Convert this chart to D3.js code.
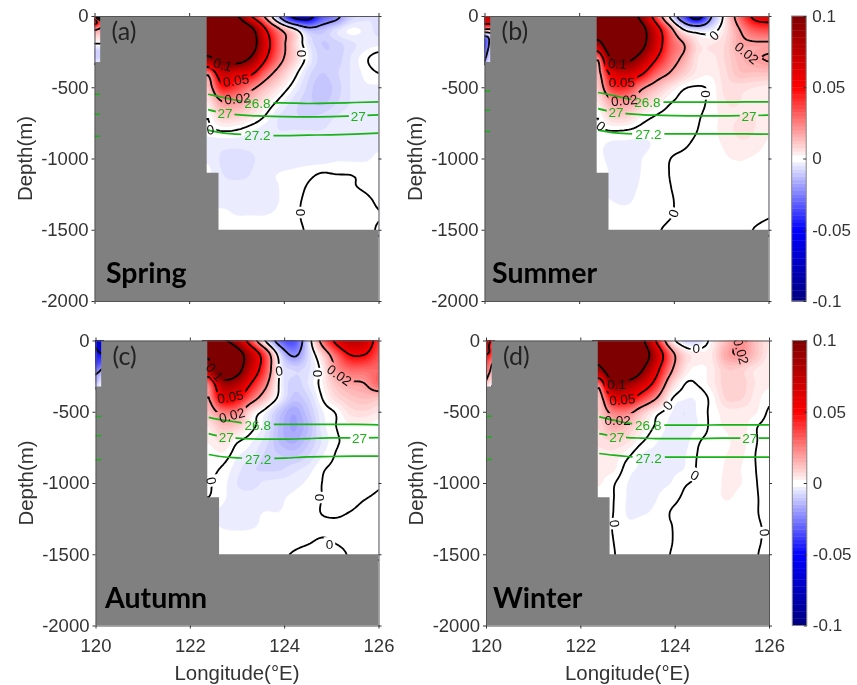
<!DOCTYPE html>
<html>
<head>
<meta charset="utf-8">
<script src="https://cdn.jsdelivr.net/npm/d3@7"></script>
<style>
  html, body { margin: 0; background: #fff; }
  svg { display: block; filter: blur(0.45px); }
  text { font-family: "Liberation Sans", Arial, sans-serif; }
</style>
</head>
<body>
<div id="chart"></div>
<script>
// field values, in units of 0.001
// rows: depth 0..1500 every 100 m, columns: 122.4..126 every 0.3 deg
const lons = d3.range(13).map(i => 122.4 + i * 0.3);
const depths = d3.range(16).map(i => i * 100);

const springValues = [
  [140, 140, 105, 52, 18, -20, -55, -60, -35, -25, -10, -6, -5],
  [140, 170, 160, 115, 55, 24, 6, -12, -12, -6, -2, -3, -6],
  [130, 170, 170, 125, 65, 30, 10, -4, -10, -9, -6, -4, -3],
  [90, 115, 120, 95, 53, 26, 10, -2, -9, -9, -5, -1, 2],
  [25, 70, 62, 55, 30, 14, 3, -6, -10, -8, -5, -2, 0],
  [12, 45, 38, 25, 13, 5, -2, -8, -12, -9, -5, -3, -3],
  [5, 20, 20, 12, 5, -1, -6, -9, -11, -8, -5, -4, -4],
  [0.5, 10, 9, 5, 0, -5, -7, -8, -7, -5, -4, -4, -4],
  [-1, 0.5, 0, -2, -4, -5, -5, -5, -5, -4, -3, -3, -3],
  [-4, -4, -4, -4, -4, -4, -4, -4, -4, -3, -3, -3, -3],
  [-3, -5.5, -6.5, -5.5, -4, -4, -4, -4, -4, -3, -3, -3, -2],
  [-2, -5, -6, -5, -3, -2.5, -2, -1, 0, -0.2, -0.2, -0.5, -1],
  [-3, -4, -4, -4, -3, -2.5, -1.5, 0.2, 1, 1, 0.3, -0.3, -1],
  [-3, -3, -3, -3, -3, -2.5, -0.8, 0.5, 1, 1, 1, 0.6, -0.3],
  [-2, -2, -2.5, -2.5, -2.5, -2, -0.6, 0.5, 1, 1, 1, 0.8, 0.1],
  [-1, -1, -1, -1, -1, -1, -0.5, 0.2, 1, 1, 1, 0.8, -0.2]
];
const summerValues = [
  [140, 140, 130, 90, 40, 0, -35, -60, -20, 5, 30, 55, 60],
  [135, 170, 170, 120, 68, 30, 2, -5, -3, 6, 20, 32, 35],
  [80, 150, 160, 115, 70, 35, 21, 6, 5, 8, 17, 18, 18],
  [23, 105, 110, 85, 53, 30, 17, 5, 4, 8, 14, 18, 21],
  [15, 60, 70, 55, 32, 20, 10, 4, 3, 7, 12, 12, 12],
  [10, 40, 42, 24, 14, 6, 0.8, -0.3, 1, 6, 6, 5, 4],
  [5, 18, 20, 12, 5, 0.7, -1, -0.8, 1, 5, 5, 4, 3],
  [0.4, 9, 9, 3, 0, -1, -1, -0.3, 1.2, 4, 5, 5, 3],
  [-0.5, 0.3, 0, -1.2, -1.8, -1.8, -1.2, 0, 1.5, 4, 5.5, 5, 3],
  [-2, -3, -3, -3, -2.2, -1, -0.4, 0.6, 1.5, 3, 4.5, 4, 2],
  [-2, -3.2, -3.2, -2.6, -1.5, -0.1, 0.5, 1, 1.2, 2.2, 2.8, 2, 1],
  [-1, -3, -3, -2.5, -1.2, 0, 0.6, 1, 1, 1, 1, 0.8, 0.6],
  [-2, -3, -3, -2.3, -1, -0.1, 0.5, 0.8, 0.8, 0.8, 0.8, 0.8, 0.6],
  [-2, -2.5, -2.8, -1.8, -0.7, -0.2, 0.4, 0.8, 0.8, 0.8, 0.8, 0.8, 0.5],
  [-1, -1.5, -1.5, -1, -0.5, -0.1, 0.3, 0.5, 0.6, 0.6, 0.6, 0.4, 0.1],
  [-1, -1, -1, -0.8, -0.2, 0.2, 0.5, 0.5, 0.5, 0.5, 0.5, -0.05, -0.3]
];
const autumnValues = [
  [110, 105, 80, 35, -0.5, -27, -35, -8, 25, 55, 75, 70, 40],
  [105, 150, 120, 75, 35, -5, -22, -8, 8, 30, 50, 50, 35],
  [80, 140, 115, 70, 36, -1, -8, -6, 2, 21, 30, 30, 30],
  [28, 85, 80, 50, 25, -1, -9, -5, 2, 12, 18, 20, 30],
  [20, 58, 52, 30, 12, -2, -11, -8, 0, 7, 11, 13, 12],
  [12, 26, 25, 6, -2, -11, -17, -11, -3, 0.5, 6, 7, 5],
  [5, 12, 10, 2, -4, -13, -18, -13, -4, 0, 2, 2, 1],
  [3, 6, 1, -2, -6, -13, -16, -11, -5, -0.5, 0.5, 0.8, 0.6],
  [1, 2, -2, -4, -8, -10, -11, -8, -3, 0.2, 0.8, 0.8, 0.6],
  [0.8, -0.5, -4, -7, -8, -8, -6, -4, -0.5, 0.6, 0.8, 0.8, 0.6],
  [0.3, -1.5, -5, -6, -4.5, -4, -3.5, -2, 0, 0.6, 0.8, 0.8, 0.2],
  [0, -2, -4, -4, -3.5, -3, -2, -1.2, 0, 0.5, 0.4, 0.1, -0.2],
  [-2, -3, -3.5, -3, -2.5, -2.5, -1.5, -1, 0.1, 0.2, 0, -0.3, -0.6],
  [-2, -2.7, -3, -2.8, -2, -1.2, -1, -0.6, -0.4, -0.2, -0.4, -0.6, -0.8],
  [-1, -1.5, -1.5, -1.4, -1.2, -0.8, -0.5, -0.2, 0.1, -0.1, -0.3, -0.5, -0.7],
  [-1, -1, -1, -1, -0.8, -0.3, 0.1, 0.4, 0.6, 0.3, -0.1, -0.4, -0.6]
];
const winterValues = [
  [150, 160, 140, 110, 50, 8, -6, -6, 3, 13, 22, 12, 5],
  [120, 170, 170, 130, 75, 30, 8, 4, 5, 17, 20, 12, 4],
  [90, 140, 150, 105, 60, 25, 6, 1.5, 4, 10, 9, 5, 3],
  [30, 100, 90, 70, 43, 12, 0.5, 0.4, 4, 9, 9, 5, 3],
  [12, 55, 57, 40, 22, 2, -2, -2, 1.5, 8, 8, 4, 1],
  [10, 25, 25, 12, 2.5, -2, -5, -2, 1, 4, 4, 3, -0.4],
  [8, 16, 12, 5, -0.5, -3, -4, -2.4, 1, 3, 4, 0.5, -1],
  [6, 8, 6, 0.8, -2.2, -3, -3.6, -0.4, 1, 2, 3.5, 0.5, -2],
  [4, 4, 1, -2.6, -3, -3, -2.8, 0.2, 1, 2.5, 3, 0.1, -2],
  [3, 3, -1.5, -2.8, -3, -3, -2.5, 0.4, 1, 2.8, 2.5, 0.2, -2.5],
  [2.8, 0.4, -2.5, -3, -3, -2.6, -0.4, 0.4, 1.2, 3, 2.6, 0.4, -2],
  [1, 0.1, -2.7, -3.2, -2.7, -1, 0.3, 0.8, 1.2, 2.8, 1.5, 0.4, -1.2],
  [0.5, 0, -2.8, -2.9, -2, 0, 0.4, 0.8, 0.8, 1, 0.8, 0.2, -0.6],
  [0.5, -0.1, -2, -1.5, -1, -0.1, 0.4, 0.6, 0.6, 0.6, 0.5, 0.2, -0.2],
  [0.5, 0, -1, -1, -0.6, -0.1, 0.4, 0.5, 0.5, 0.5, 0.5, 0.2, -0.2],
  [0.5, 0.1, -0.8, -0.6, -0.4, 0, 0.3, 0.4, 0.4, 0.4, 0.4, 0.1, -0.3]
];

// the narrow strip west of the ridge, same units: depth 0..320 every 40 m
const stripLons = [120, 120.07, 120.14];
const stripDepths = d3.range(9).map(i => i * 40);
const springStrip = [
  [30, -10, -40], [60, 45, 25], [30, 25, 20], [12, 12, 12], [5, 5, 5],
  [-1, -1, -1], [-8, -8, -8], [-9, -9, -9], [-6, -6, -6]
];
const summerStrip = [
  [70, 70, 70], [60, 60, 60], [30, 30, 30], [-5, -3, 0], [-30, -25, -10],
  [-35, -25, -10], [-30, -20, -8], [-25, -15, -6], [-20, -10, -5]
];
const autumnStrip = [
  [-75, -70, -65], [-52, -60, -70], [-45, -50, -53], [-42, -42, -42], [-38, -35, -32],
  [-28, -25, -20], [-20, -16, -12], [-18, -10, -6], [-8, -5, -2]
];
const winterStrip = [
  [75, 55, 40], [65, 48, 35], [55, 50, 35], [45, 38, 30], [35, 28, 20],
  [30, 24, 14], [26, 18, 8], [20, 10, 4], [6, 3, -0.3]
];

// isopycnal depths (m)
const isoLons = [122.4, 122.7, 123, 123.3, 123.6, 124, 124.5, 125, 125.5, 126];
const springIso = [
  [549, 570, 591, 605, 610, 610, 614, 612, 607, 603],
  [657, 680, 692, 699, 703, 706, 708, 706, 701, 694],
  [801, 820, 829, 836, 839, 839, 836, 834, 829, 822]
];
const summerIso = [
  [537, 556, 579, 596, 603, 605, 605, 605, 603, 603],
  [650, 673, 685, 692, 696, 699, 701, 701, 699, 696],
  [801, 818, 825, 827, 827, 827, 827, 827, 827, 829]
];
const autumnIso = [
  [540, 559, 573, 587, 589, 589, 589, 589, 589, 592],
  [653, 676, 685, 690, 692, 692, 688, 683, 683, 681],
  [800, 816, 823, 828, 828, 826, 816, 814, 812, 812]
];
const winterIso = [
  [536, 559, 580, 589, 594, 594, 594, 592, 592, 592],
  [653, 671, 681, 685, 688, 688, 688, 685, 685, 685],
  [793, 805, 814, 819, 819, 819, 819, 819, 819, 819]
];
const springIsoStrip = [549, 689, 843];
const summerIsoStrip = [528, 661, 811];
const autumnIsoStrip = [533, 669, 837];
const winterIsoStrip = [531, 678, 835];

// contour labels: text, lon, depth, angle
const springLabels = [
  ['0.1', 122.71, 341, 15], ['0.05', 122.99, 451, -8], ['0.02', 123.02, 579, -5],
  ['0', 124.38, 264, 90], ['0', 122.45, 797, -10], ['0', 124.36, 1379, 90]
];
const summerLabels = [
  ['0.1', 122.81, 334, 5], ['0.05', 122.9, 463, 0], ['0.02', 122.95, 591, -5],
  ['0', 124.85, 136, -45], ['0.02', 125.54, 259, 40], ['0', 124.68, 547, 90],
  ['0', 122.46, 771, 40], ['0', 123.99, 1385, -70]
];
const autumnLabels = [
  ['0.1', 122.53, 220, 50], ['0.05', 122.86, 395, -10], ['0.02', 122.89, 524, -15],
  ['0', 123.89, 213, -10], ['0', 124.72, 232, 90], ['0.02', 125.17, 243, 35],
  ['0', 122.46, 985, 80], ['0', 124.75, 1102, 90], ['0', 124.96, 1429, 0]
];
const winterLabels = [
  ['0.1', 122.77, 306, 0], ['0.05', 122.89, 414, -5], ['0.02', 122.79, 559, 0],
  ['0', 123.85, 456, -50], ['0', 124.46, 51, 0], ['0.02', 125.41, 75, 75],
  ['0', 124.43, 945, 30], ['0', 122.73, 1284, 85], ['0', 125.91, 1347, 85]
];
const springIsoLabels = [['26.8', 123.44, 610], ['27', 122.76, 685], ['27', 125.57, 703], ['27.2', 123.44, 836]];
const summerIsoLabels = [['26.8', 123.44, 603], ['27', 122.78, 673], ['27', 125.59, 701], ['27.2', 123.46, 831]];
const autumnIsoLabels = [['26.8', 123.44, 592], ['27', 122.77, 676], ['27', 125.6, 683], ['27.2', 123.45, 830]];
const winterIsoLabels = [['26.8', 123.44, 596], ['27', 122.77, 676], ['27', 125.59, 688], ['27.2', 123.45, 823]];

const lonTicks = [120, 122, 124, 126];
const depthTicks = [0, 500, 1000, 1500, 2000];
const colorTicks = [-0.1, -0.05, 0, 0.05, 0.1];
const contourLevels = [-50, -20, 0, 20, 50, 100];

const ink = '#333';
const green = '#17b317';
const gray = '#808080';

const panels = [
  { id: 'a', left: 94.5, top: 16, width: 284, titleX: 32, tag: '(a)', name: 'Spring', nameDx: 11.5, values: springValues, strip: springStrip, iso: springIso, isoStrip: springIsoStrip, labels: springLabels, isoLabels: springIsoLabels },
  { id: 'b', left: 484.5, top: 16, width: 284, titleX: 422, tag: '(b)', name: 'Summer', nameDx: 7.5, values: summerValues, strip: summerStrip, iso: summerIso, isoStrip: summerIsoStrip, labels: summerLabels, isoLabels: summerIsoLabels },
  { id: 'c', left: 95.5, top: 340.5, width: 283, titleX: 33, tag: '(c)', name: 'Autumn', nameDx: 9.5, values: autumnValues, strip: autumnStrip, iso: autumnIso, isoStrip: autumnIsoStrip, labels: autumnLabels, isoLabels: autumnIsoLabels },
  { id: 'd', left: 486, top: 340.5, width: 283, titleX: 423, tag: '(d)', name: 'Winter', nameDx: 7, values: winterValues, strip: winterStrip, iso: winterIso, isoStrip: winterIsoStrip, labels: winterLabels, isoLabels: winterIsoLabels }
];
const panelHeight = 285;

const color = d3.scaleLinear()
  .domain([-100, -50, 0, 50, 100])
  .range(['#00007f', '#0000ff', '#ffffff', '#ff0000', '#7f0000'])
  .clamp(true);

// colour bands of 2.5, white between -2.5 and 2.5
const bandStep = 2.5;
const bands = d3.range(-41, 41).filter(k => k !== 0).map(k => ({
  from: k === -41 ? -1000 : k * bandStep,
  to: k === -1 ? bandStep : (k + 1) * bandStep,
  fill: k === -1 ? '#fff' : color((k + 0.5) * bandStep)
}));

const svg = d3.select('#chart').append('svg')
  .attr('width', 857)
  .attr('height', 685);
const defs = svg.append('defs');

// smooth the coarse table so the contours are not angular (Catmull-Rom)
const fine = 6;
const pad = 2;
const cubic = (a, b, c, d, t) =>
  b + 0.5 * t * (c - a + t * (2 * a - 5 * b + 4 * c - d + t * (3 * (b - c) + d - a)));

const refine = function(rows) {
  const nRows = rows.length;
  const nCols = rows[0].length;
  const w = (nCols - 1) * fine + 1 + pad * 2;
  const h = (nRows - 1) * fine + 1 + pad * 2;
  const out = new Array(w * h);
  const at = (r, c) => rows[Math.max(0, Math.min(nRows - 1, r))][Math.max(0, Math.min(nCols - 1, c))];
  for (let j = 0; j < h; j++) {
    const v = Math.max(0, Math.min(nRows - 1, (j - pad) / fine));
    const r = Math.min(nRows - 2, Math.floor(v));
    for (let i = 0; i < w; i++) {
      const u = Math.max(0, Math.min(nCols - 1, (i - pad) / fine));
      const c = Math.min(nCols - 2, Math.floor(u));
      const col = [-1, 0, 1, 2].map(k => cubic(at(r + k, c - 1), at(r + k, c), at(r + k, c + 1), at(r + k, c + 2), u - c));
      out[i + j * w] = cubic(col[0], col[1], col[2], col[3], v - r);
    }
  }
  return { w, h, out };
};

const drawField = function(g, rows, gridLons, gridDepths, x, y, gaps) {
  const { w, h, out } = refine(rows);
  const dLon = gridLons[1] - gridLons[0];
  const dDepth = gridDepths[1] - gridDepths[0];
  const path = d3.geoPath(d3.geoTransform({
    point: function(px, py) {
      this.stream.point(
        x(gridLons[0] + dLon * (px - 0.5 - pad) / fine),
        y(gridDepths[0] + dDepth * (py - 0.5 - pad) / fine)
      );
    }
  }));

  const contours = d3.contours().size([w, h]);
  bands.forEach((band) => {
    g.append('path')
      .attr('d', path(contours.contour(out, band.from)))
      .attr('fill', band.fill)
      .attr('stroke', band.fill)
      .attr('stroke-width', 0.3);
  });

  const lines = g.append('g').attr('mask', gaps);
  contourLevels.forEach((level) => {
    lines.append('path')
      .attr('d', path(contours.contour(out, level)))
      .attr('fill', 'none')
      .attr('stroke', '#000')
      .attr('stroke-width', 1.8);
  });
};

const addGaps = function(id, items, width, x, y, charWidth) {
  const mask = defs.append('mask')
    .attr('id', id)
    .attr('maskUnits', 'userSpaceOnUse')
    .attr('x', -5).attr('y', -5)
    .attr('width', width + 10).attr('height', panelHeight + 10);
  mask.append('rect')
    .attr('x', -5).attr('y', -5)
    .attr('width', width + 10).attr('height', panelHeight + 10)
    .attr('fill', '#fff');
  items.forEach((d) => {
    const boxW = d[0].length * charWidth + 5;
    mask.append('rect')
      .attr('x', -boxW / 2).attr('y', -7)
      .attr('width', boxW).attr('height', 14)
      .attr('fill', '#000')
      .attr('transform', `translate(${x(d[1])},${y(d[2])}) rotate(${d[3] || 0})`);
  });
};

panels.forEach((p, idx) => {
  const x = d3.scaleLinear().domain([120, 126]).range([0, p.width]);
  const y = d3.scaleLinear().domain([0, 2000]).range([0, panelHeight]);
  const g = svg.append('g').attr('transform', `translate(${p.left},${p.top})`);

  defs.append('clipPath').attr('id', `clip-${p.id}`)
    .append('rect').attr('width', p.width).attr('height', panelHeight);

  addGaps(`gaps-${p.id}`, p.labels, p.width, x, y, 6.5);
  addGaps(`iso-gaps-${p.id}`, p.isoLabels, p.width, x, y, 6.8);

  const plot = g.append('g').attr('clip-path', `url(#clip-${p.id})`);
  drawField(plot, p.strip, stripLons, stripDepths, x, y, `url(#gaps-${p.id})`);
  drawField(plot, p.values, lons, depths, x, y, `url(#gaps-${p.id})`);

  const isoLine = d3.line()
    .curve(d3.curveMonotoneX)
    .x(d => x(d[0]))
    .y(d => y(d[1]));
  plot.append('g').attr('mask', `url(#iso-gaps-${p.id})`)
    .selectAll('path')
    .data(p.iso)
    .join('path')
    .attr('d', row => isoLine(row.map((depth, i) => [isoLons[i], depth])))
    .attr('fill', 'none')
    .attr('stroke', green)
    .attr('stroke-width', 1.7);

  // ridge and sea floor
  const land = [[120.12, 0], [122.37, 0], [122.37, 1100], [122.62, 1100], [122.62, 1500],
    [126, 1500], [126, 2000], [120, 2000], [120, 322], [120.12, 322]];
  plot.append('path')
    .attr('d', d3.line().x(d => x(d[0])).y(d => y(d[1]))(land) + 'Z')
    .attr('fill', gray);

  // the isopycnal stubs sit on top of the ridge at the west end
  plot.selectAll('line.stub')
    .data(p.isoStrip)
    .join('line')
    .attr('class', 'stub')
    .attr('x1', x(120)).attr('x2', x(120.12))
    .attr('y1', d => y(d)).attr('y2', d => y(d))
    .attr('stroke', green)
    .attr('stroke-width', 1.5);

  plot.selectAll('text.lab')
    .data(p.labels)
    .join('text')
    .attr('class', 'lab')
    .attr('transform', d => `translate(${x(d[1])},${y(d[2])}) rotate(${d[3]})`)
    .attr('text-anchor', 'middle')
    .attr('dy', '0.36em')
    .attr('font-size', 13.5)
    .attr('fill', '#111')
    .text(d => d[0]);

  plot.selectAll('text.isolab')
    .data(p.isoLabels)
    .join('text')
    .attr('class', 'isolab')
    .attr('x', d => x(d[1]))
    .attr('y', d => y(d[2]))
    .attr('text-anchor', 'middle')
    .attr('dy', '0.36em')
    .attr('font-size', 13.5)
    .attr('fill', green)
    .text(d => d[0]);

  // box with ticks on all four sides
  const bottomRow = idx > 1;
  const yFormat = d => d === 0 ? '0' : `-${d}`;
  const styleAxis = (sel) => {
    sel.selectAll('.domain').attr('stroke', '#555');
    sel.selectAll('.tick line').attr('stroke', '#333');
    sel.selectAll('text')
      .attr('fill', ink)
      .attr('font-size', 18.5)
      .style('font-family', '"Liberation Sans", Arial, sans-serif');
  };
  g.append('g')
    .call(d3.axisLeft(y).tickValues(depthTicks).tickFormat(yFormat).tickSize(3).tickSizeOuter(0).tickPadding(3))
    .call(styleAxis);
  g.append('g').attr('transform', `translate(${p.width},0)`)
    .call(d3.axisRight(y).tickValues(depthTicks).tickFormat('').tickSize(3).tickSizeOuter(0))
    .call(styleAxis);
  g.append('g')
    .call(d3.axisTop(x).tickValues(lonTicks).tickFormat('').tickSize(3).tickSizeOuter(0))
    .call(styleAxis);
  g.append('g').attr('transform', `translate(0,${panelHeight})`)
    .call(d3.axisBottom(x).tickValues(lonTicks).tickFormat(bottomRow ? d3.format('d') : '').tickSize(3).tickSizeOuter(0).tickPadding(10))
    .call(styleAxis);

  g.append('text')
    .attr('x', 17).attr('y', 24)
    .attr('font-size', 25)
    .attr('fill', '#222')
    .style('font-family', 'Lato')
    .text(p.tag);
  g.append('text')
    .attr('x', p.nameDx).attr('y', 267)
    .attr('font-size', 28.5)
    .attr('font-weight', 'bold')
    .attr('fill', '#000')
    .style('font-family', 'Lato')
    .text(p.name);

  g.append('text')
    .attr('transform', `translate(${p.titleX - p.left},${panelHeight / 2}) rotate(-90)`)
    .attr('text-anchor', 'middle')
    .attr('font-size', 20.4)
    .attr('fill', ink)
    .text('Depth(m)');

  if (bottomRow) {
    g.append('text')
      .attr('x', p.width / 2)
      .attr('y', panelHeight + 54)
      .attr('text-anchor', 'middle')
      .attr('font-size', 20.4)
      .attr('fill', ink)
      .text('Longitude(°E)');
  }
});

// colour bars
[[791.7, 16, 14.5], [792.3, 340.5, 14.5]].forEach(([left, top, width]) => {
  const c = d3.scaleLinear().domain([-100, 100]).range([panelHeight, 0]);
  const tickScale = d3.scaleLinear().domain([-0.1, 0.1]).range([panelHeight, 0]);
  const bar = svg.append('g').attr('transform', `translate(${left},${top})`);
  bar.selectAll('rect')
    .data(bands)
    .join('rect')
    .attr('x', 0)
    .attr('width', width)
    .attr('y', d => c(Math.min(100, d.to)))
    .attr('height', d => c(Math.max(-100, d.from)) - c(Math.min(100, d.to)) + 0.4)
    .attr('fill', d => d.fill);
  bar.append('rect')
    .attr('width', width).attr('height', panelHeight)
    .attr('fill', 'none')
    .attr('stroke', '#888');
  bar.append('g').attr('transform', `translate(${width},0)`)
    .call(d3.axisRight(tickScale).tickValues(colorTicks).tickFormat(d => d).tickSizeInner(-3).tickSizeOuter(0).tickPadding(6))
    .call(a => a.select('.domain').remove())
    .call(a => a.selectAll('.tick line').attr('stroke', '#333'))
    .call(a => a.selectAll('text')
      .attr('fill', ink)
      .attr('font-size', 17)
      .style('font-family', '"Liberation Sans", Arial, sans-serif'));
});
</script>
</body>
</html>
